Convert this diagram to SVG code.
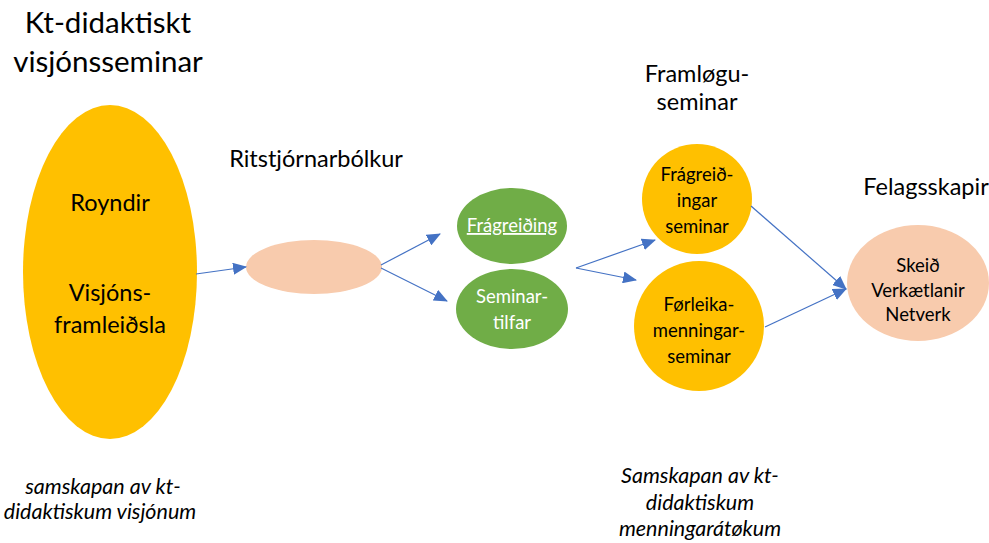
<svg xmlns="http://www.w3.org/2000/svg" width="989" height="543" viewBox="0 0 989 543">
<style>
text{font-family:Lato,"Open Sans","Liberation Sans",sans-serif;fill:#000;text-anchor:middle}
.t1{font-size:29.5px}
.t2{font-size:23.5px}
.n{font-size:23.5px}
.s{font-size:18.5px}
.w{fill:#fff}
.i{font-style:italic;font-size:21.5px}
.c{stroke:#4472C4;stroke-width:1.2;fill:none}
</style>
<defs>
<marker id="ah2" markerWidth="14" markerHeight="12" refX="13" refY="6" orient="auto" markerUnits="userSpaceOnUse" viewBox="0 0 14 12">
<path d="M0,0 L14,6 L0,12 Z" fill="#4472C4"/>
</marker>
</defs>
<rect width="989" height="543" fill="#fff"/>
<g id="title">
<text class="t1" x="108" y="33">Kt-didaktiskt</text>
<text class="t1" x="108" y="72">visjónsseminar</text>
</g>
<g id="visjon">
<ellipse cx="110" cy="272" rx="87" ry="167" fill="#FFC000"/>
<text class="n" x="110" y="211">Royndir</text>
<text class="n" x="110" y="301">Visjóns-</text>
<text class="n" x="110" y="333">framleiðsla</text>
</g>
<g id="ritstjorn">
<text class="t2" x="316" y="167">Ritstjórnarbólkur</text>
<ellipse cx="314" cy="267" rx="68" ry="27" fill="#F8CBAD"/>
</g>
<g id="fragreiding">
<ellipse cx="512" cy="226" rx="55" ry="38" fill="#70AD47"/>
<text class="s w" x="512" y="232" text-decoration="underline">Frágreiðing</text>
</g>
<g id="seminartilfar">
<ellipse cx="512" cy="309" rx="56" ry="40" fill="#70AD47"/>
<text class="s w" x="512" y="303">Seminar-</text>
<text class="s w" x="512" y="329">tilfar</text>
</g>
<g id="framlogu">
<text class="t2" x="697" y="82">Framløgu-</text>
<text class="t2" x="697" y="110">seminar</text>
</g>
<g id="fragreidingarseminar">
<circle cx="697" cy="199" r="55" fill="#FFC000"/>
<text class="s" x="697" y="181">Frágreið-</text>
<text class="s" x="697" y="207">ingar</text>
<text class="s" x="697" y="233">seminar</text>
</g>
<g id="forleikaseminar">
<circle cx="699" cy="326" r="65" fill="#FFC000"/>
<text class="s" x="699" y="311">Førleika-</text>
<text class="s" x="699" y="337">menningar-</text>
<text class="s" x="699" y="363">seminar</text>
</g>
<g id="felagsskapir">
<text class="t2" x="926" y="195">Felagsskapir</text>
<ellipse cx="918" cy="283" rx="71" ry="58" fill="#F8CBAD"/>
<text class="s" x="918" y="272">Skeið</text>
<text class="s" x="918" y="297">Verkætlanir</text>
<text class="s" x="918" y="321">Netverk</text>
</g>
<g id="notes">
<text class="i" x="103" y="494">samskapan av kt-</text>
<text class="i" x="100" y="519">didaktiskum visjónum</text>
<text class="i" x="700" y="483">Samskapan av kt-</text>
<text class="i" x="700" y="510">didaktiskum</text>
<text class="i" x="700" y="536">menningarátøkum</text>
</g>
<g id="connectors">
<line class="c" x1="196" y1="274" x2="246" y2="267" marker-end="url(#ah2)"/>
<line class="c" x1="381" y1="265" x2="440" y2="234" marker-end="url(#ah2)"/>
<line class="c" x1="381" y1="268" x2="447" y2="301" marker-end="url(#ah2)"/>
<line class="c" x1="576" y1="268" x2="655" y2="240" marker-end="url(#ah2)"/>
<line class="c" x1="576" y1="268" x2="636" y2="280" marker-end="url(#ah2)"/>
<line class="c" x1="751" y1="206" x2="846" y2="289" marker-end="url(#ah2)"/>
<line class="c" x1="765" y1="327" x2="846" y2="289" marker-end="url(#ah2)"/>
</g>
</svg>
